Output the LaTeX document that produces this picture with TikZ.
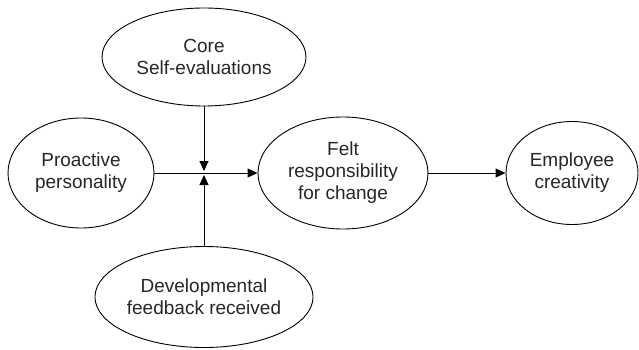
\documentclass[tikz,border=0pt]{standalone}
\usepackage{fontspec}
\setmainfont{Liberation Sans}
\usetikzlibrary{shapes.geometric,arrows.meta}
\begin{document}
\begin{tikzpicture}[x=1pt,y=-1pt,
  construct/.style={ellipse,draw,line width=0.9pt,inner sep=0pt,align=center,
    text=black!85,font=\fontsize{19}{22}\selectfont},
  link/.style={line width=0.9pt,-{Triangle[length=10pt,width=9pt]}}]
\useasboundingbox (0,0) rectangle (639,350);
\node[construct,minimum width=204pt,minimum height=98pt] (core) at (204,57) {Core\\Self-evaluations};
\node[construct,minimum width=146pt,minimum height=110pt] (pro) at (81,173) {Proactive\\personality};
\node[construct,minimum width=170pt,minimum height=112pt] (felt) at (343,173) {Felt\\responsibility\\for change};
\node[construct,minimum width=132pt,minimum height=103pt] (emp) at (572,173) {Employee\\creativity};
\node[construct,minimum width=204pt,minimum height=101pt] (dev) at (204,297) {Developmental\\feedback received};
% moderation point on the main path
\coordinate (jt) at (204,171);
\coordinate (jb) at (204,175);
\draw[link] (pro.east) -- (felt.west);
\draw[link] (felt.east) -- (emp.west);
\draw[link] (core.south) -- (jt);
\draw[link] (dev.north) -- (jb);
\end{tikzpicture}
\end{document}
